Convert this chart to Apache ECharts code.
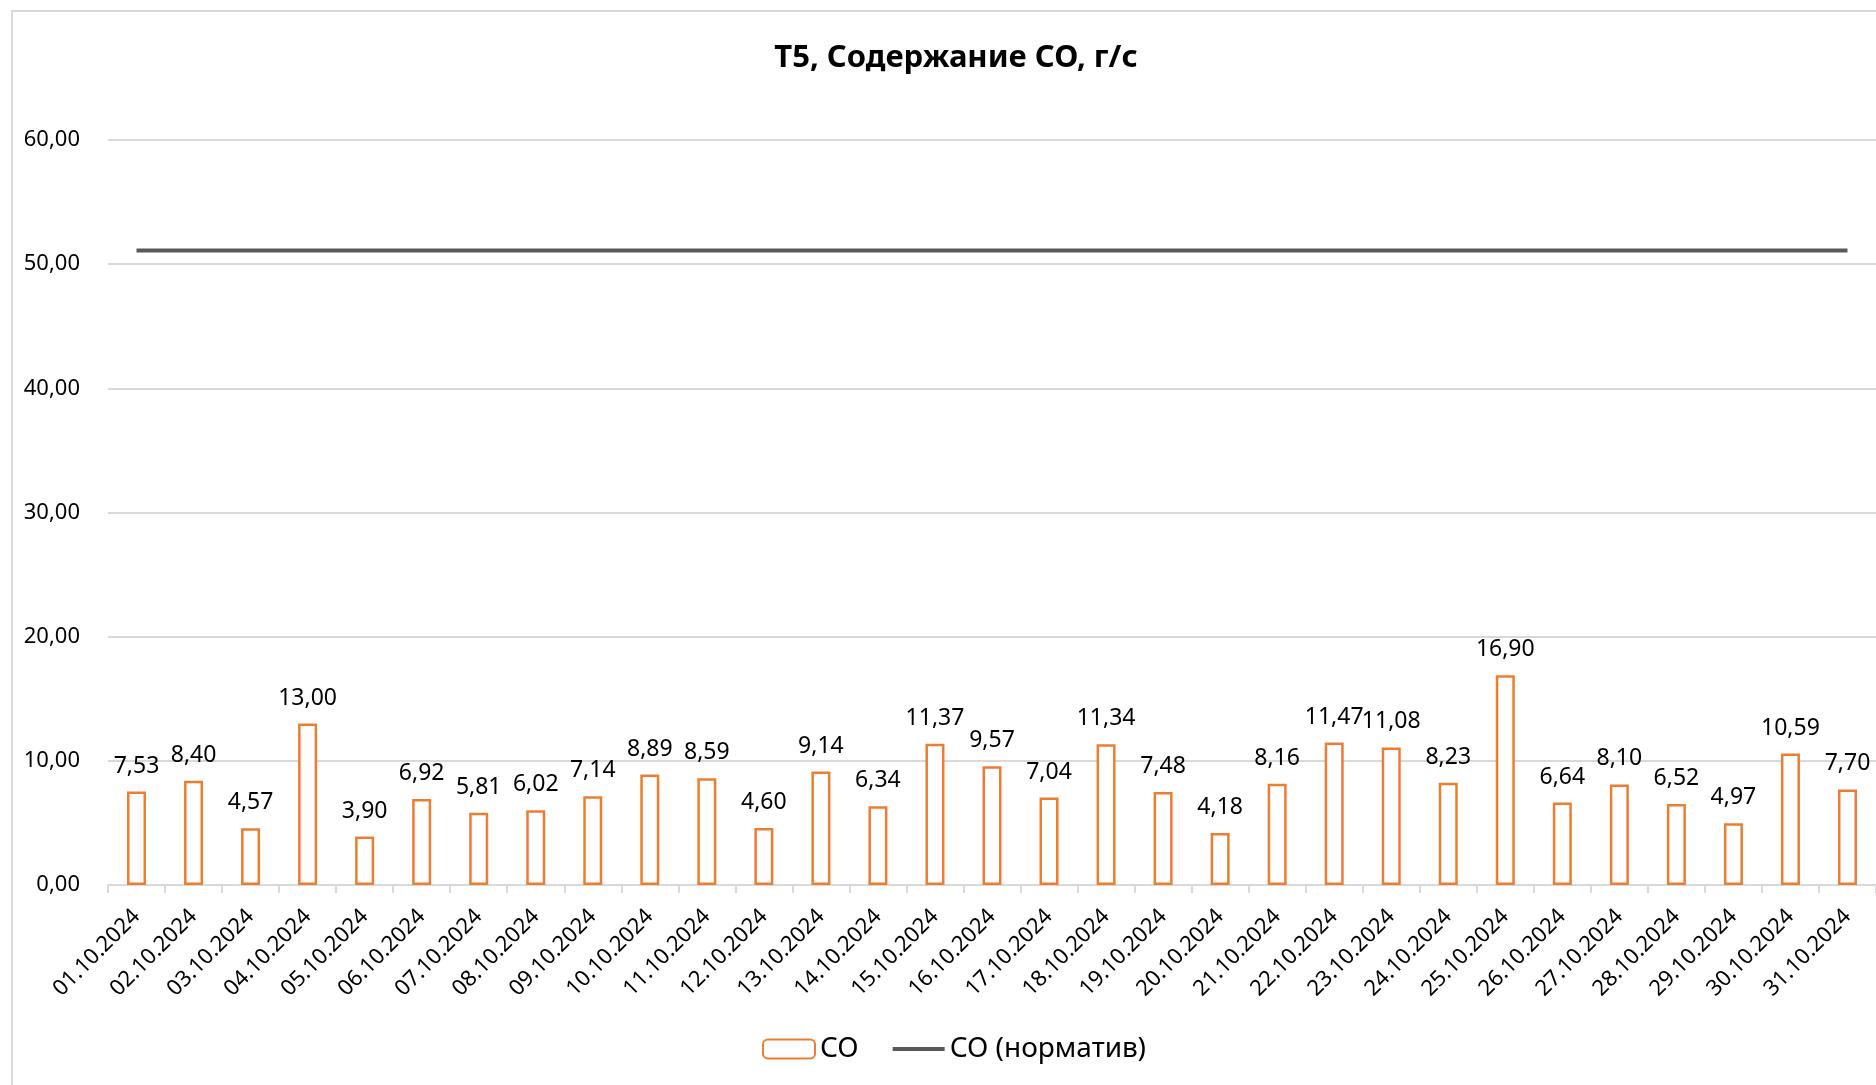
<!DOCTYPE html>
<html>
<head>
<meta charset="utf-8">
<script src="https://cdn.jsdelivr.net/npm/echarts@6/dist/echarts.min.js"></script>
<style>
  html, body { margin: 0; padding: 0; background: #fff; }
  #chart { width: 1876px; height: 1085px; }
</style>
</head>
<body>
<div id="chart"></div>
<script>
// даты
const dates = [
  "01.10.2024", "02.10.2024", "03.10.2024", "04.10.2024", "05.10.2024",
  "06.10.2024", "07.10.2024", "08.10.2024", "09.10.2024", "10.10.2024",
  "11.10.2024", "12.10.2024", "13.10.2024", "14.10.2024", "15.10.2024",
  "16.10.2024", "17.10.2024", "18.10.2024", "19.10.2024", "20.10.2024",
  "21.10.2024", "22.10.2024", "23.10.2024", "24.10.2024", "25.10.2024",
  "26.10.2024", "27.10.2024", "28.10.2024", "29.10.2024", "30.10.2024",
  "31.10.2024"
];
// CO, г/с
const coValues = [
  7.53, 8.40, 4.57, 13.00, 3.90, 6.92, 5.81, 6.02, 7.14, 8.89,
  8.59, 4.60, 9.14, 6.34, 11.37, 9.57, 7.04, 11.34, 7.48, 4.18,
  8.16, 11.47, 11.08, 8.23, 16.90, 6.64, 8.10, 6.52, 4.97, 10.59,
  7.70
];
// норматив
const normValues = [
  51.1, 51.1, 51.1, 51.1, 51.1, 51.1, 51.1, 51.1, 51.1, 51.1,
  51.1, 51.1, 51.1, 51.1, 51.1, 51.1, 51.1, 51.1, 51.1, 51.1,
  51.1, 51.1, 51.1, 51.1, 51.1, 51.1, 51.1, 51.1, 51.1, 51.1,
  51.1
];

const font = "'Noto Sans', sans-serif";
const fmt = (v) => Number(v).toFixed(2).replace(".", ",");

const chart = echarts.init(document.getElementById("chart"));
chart.setOption({
  backgroundColor: "#fff",
  animation: false,
  textStyle: { fontFamily: font },
  title: {
    text: "Т5, Содержание СО, г/с",
    left: 951,
    top: 38,
    textAlign: "center",
    textStyle: {
      fontFamily: font,
      fontSize: 31,
      fontWeight: "bold",
      color: "#000"
    }
  },
  graphic: [
    {
      type: "rect",
      shape: { x: 12, y: 11, width: 2000, height: 2000 },
      style: { fill: "none", stroke: "#d9d9d9", lineWidth: 2 },
      silent: true,
      z: -1
    }
  ],
  legend: {
    bottom: 17,
    left: 757,
    itemWidth: 52,
    itemHeight: 19,
    itemGap: 32,
    textStyle: { fontFamily: font, fontSize: 28, color: "#000" },
    data: [
      "СО",
      // без маркера, только линия
      {
        name: "СО (норматив)",
        itemStyle: { opacity: 0 },
        lineStyle: { width: 4, color: "#595959" }
      }
    ]
  },
  grid: {
    left: 108,
    right: 0,
    top: 140,
    bottom: 200
  },
  xAxis: {
    type: "category",
    data: dates,
    axisLine: { lineStyle: { color: "#d9d9d9", width: 2 } },
    axisTick: { show: true, length: 8, lineStyle: { color: "#d9d9d9", width: 2 } },
    axisLabel: {
      rotate: 45,
      interval: 0,
      margin: 28,
      fontFamily: font,
      fontSize: 22,
      color: "#000"
    }
  },
  yAxis: {
    type: "value",
    min: 0,
    max: 60,
    interval: 10,
    axisLine: { show: false },
    axisTick: { show: false },
    splitLine: { lineStyle: { color: "#d9d9d9", width: 2 } },
    axisLabel: {
      margin: 28,
      fontFamily: font,
      fontSize: 22,
      color: "#000",
      formatter: fmt
    }
  },
  series: [
    {
      name: "СО",
      type: "bar",
      data: coValues,
      barWidth: 19,
      itemStyle: {
        color: "#fff",
        borderColor: "#ED7D31",
        borderWidth: 2.5
      },
      label: {
        show: true,
        position: "top",
        distance: 14,
        fontFamily: font,
        fontSize: 23,
        color: "#000",
        formatter: (p) => fmt(p.value)
      }
    },
    {
      name: "СО (норматив)",
      type: "line",
      data: normValues,
      symbol: "none",
      lineStyle: { color: "#595959", width: 4 },
      itemStyle: { color: "#595959" },
      z: 3
    }
  ]
});
</script>
</body>
</html>
